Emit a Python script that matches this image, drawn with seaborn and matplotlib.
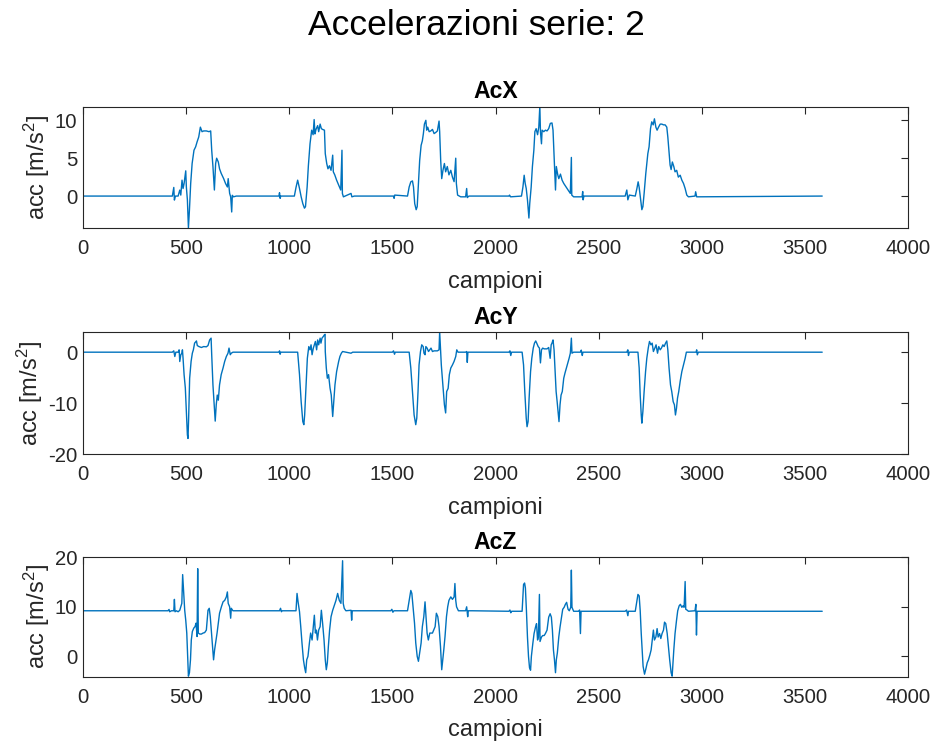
import matplotlib
matplotlib.use("Agg")
import matplotlib.pyplot as plt
import seaborn as sns
import numpy as np
import pandas as pd

# ---------------- data (sample index, value) ----------------
acx_t = [1, 432, 439, 442, 447, 460, 468, 473, 479, 484, 489, 497, 500, 505, 510, 515, 521, 528,
         537, 545, 552, 560, 568, 576, 584, 597, 610, 618, 623, 629, 636, 642, 647, 655, 661, 669,
         681, 690, 699, 703, 710, 715, 720, 723, 729, 742,
         949, 952, 955, 958, 1024, 1032, 1040, 1049, 1057, 1065, 1073, 1078, 1086, 1092, 1100, 1108,
         1115, 1120, 1124, 1129, 1137, 1142, 1149, 1155, 1161, 1170, 1174, 1181, 1187, 1194, 1202,
         1210, 1213, 1220, 1229, 1239, 1249, 1255, 1257, 1262, 1299, 1303, 1315,
         1505, 1508, 1511, 1573, 1581, 1589, 1597, 1602, 1608, 1615, 1620, 1626, 1632, 1639, 1645,
         1650, 1655, 1662, 1666, 1671, 1678, 1686, 1694, 1702, 1710, 1718, 1726, 1729, 1734, 1739,
         1745, 1752, 1758, 1766, 1774, 1783, 1791, 1799, 1807, 1810, 1816, 1831, 1855, 1860, 1863, 1871,
         2065, 2068, 2073, 2126, 2133, 2139, 2144, 2149, 2155, 2162, 2166, 2173, 2179, 2186, 2191,
         2197, 2204, 2210, 2215, 2218, 2223, 2226, 2234, 2242, 2250, 2258, 2266, 2274, 2279, 2286,
         2291, 2295, 2302, 2307, 2315, 2323, 2331, 2342, 2352, 2363, 2368, 2370, 2379, 2420, 2423,
         2425, 2429,
         2629, 2637, 2642, 2649, 2678, 2686, 2692, 2697, 2704, 2710, 2715, 2721, 2729, 2739, 2745,
         2752, 2758, 2765, 2771, 2778, 2784, 2791, 2799, 2807, 2815, 2823, 2831, 2836, 2841, 2847,
         2852, 2858, 2865, 2871, 2879, 2887, 2896, 2904, 2912, 2920, 2928, 2936, 2968, 2971, 2976,
         3585]
acx_v = [0.0, 0.0, 1.14, -0.53, 0.0, 0.0, 0.79, 0.13, 2.1, 1.0, 1.67, 3.33, 1.2, -0.5, -4.2, -1.8, 1.67, 4.3,
         6.05, 6.5, 7.15, 7.8, 9.1, 8.5, 8.6, 8.6, 8.5, 8.6, 6.05, 3.9, 0.8, 4.3, 5.0, 4.5, 3.6, 3.0,
         2.3, 1.67, 1.2, 2.3, 0.35, -0.1, -2.1, 0.1, -0.1, 0.0,
         0.0, 0.44, -0.3, 0.0, 0.0, 1.14, 2.1, 1.0, -0.1, -1.0, -1.6, -1.4, 1.2, 4.0, 6.9, 8.7,
         8.1, 10.1, 8.2, 8.8, 9.3, 8.5, 9.5, 8.9, 8.8, 8.7, 5.6, 4.3, 3.6, 4.0, 3.4,
         5.4, 3.2, 2.8, 2.1, 1.45, 0.8, 6.05, 0.35, -0.1, 0.35, -0.1, 0.0,
         0.0, -0.3, 0.13, 0.0, 1.2, 1.88, 2.0, 1.2, -1.0, -1.8, -1.4, 1.67, 4.7, 6.7, 7.3,
         8.25, 9.5, 10.0, 8.7, 9.1, 8.5, 8.6, 8.8, 8.25, 8.4, 8.6, 9.9, 8.5, 4.7, 2.3,
         3.4, 4.3, 3.2, 3.9, 2.8, 3.4, 2.5, 1.9, 5.0, 1.67, 0.13, -0.1, -0.1, 1.0, -0.2, 0.0,
         0.0, 0.13, -0.1, 0.0, 1.2, 2.75, 1.67, 1.0, -0.5, -2.9, -1.0, 1.2, 3.9, 6.05, 8.5,
         8.9, 8.1, 9.1, 11.9, 8.5, 6.9, 8.7, 8.5, 8.7, 8.6, 8.9, 9.6, 9.65, 8.7, 3.9,
         0.8, 3.9, 2.8, 2.3, 2.9, 2.1, 1.67, 1.2, 0.8, 0.35, 5.1, 0.13, -0.1, -0.1, 0.6,
         -0.5, 0.0,
         0.0, 0.8, -0.5, 0.13, 0.0, 1.0, 1.88, 1.14, -0.5, -1.8, -1.4, 0.35, 2.95, 5.6, 6.5,
         8.9, 9.8, 9.4, 10.2, 9.1, 8.7, 9.1, 9.5, 9.5, 9.4, 9.4, 9.1, 7.8, 6.05, 4.1,
         3.5, 4.5, 3.9, 3.2, 3.4, 2.5, 2.75, 2.1, 1.67, 1.0, 0.13, -0.1, 0.0, 0.57, -0.1,
         0.0]

acy_t = [1, 432, 439, 444, 449, 460, 465, 468, 473, 478, 481, 484, 489, 495, 500, 505, 508, 511, 516,
         523, 529, 534, 540, 549, 553, 561, 573, 584, 597, 605, 613, 620, 623, 629, 636, 640, 645,
         650, 655, 661, 669, 678, 686, 694, 702, 707, 713, 718, 726,
         949, 952, 955, 958, 1032, 1040, 1049, 1057, 1065, 1070, 1074, 1081, 1087, 1094, 1100, 1105,
         1110, 1116, 1121, 1126, 1132, 1137, 1142, 1149, 1153, 1158, 1165, 1170, 1173, 1174, 1179,
         1184, 1190, 1197, 1203, 1210, 1215, 1221, 1229, 1239, 1245, 1252, 1258, 1274, 1299, 1307,
         1500, 1505, 1510, 1513, 1581, 1589, 1597, 1605, 1613, 1618, 1624, 1629, 1636, 1642, 1649,
         1653, 1658, 1662, 1668, 1675, 1681, 1687, 1694, 1702, 1718, 1726, 1729, 1734, 1737, 1742,
         1747, 1752, 1758, 1763, 1770, 1776, 1783, 1791, 1799, 1807, 1812, 1818, 1855, 1860, 1863,
         1866, 1887,
         2065, 2070, 2074, 2078, 2129, 2136, 2142, 2149, 2153, 2158, 2163, 2170, 2176, 2183, 2189,
         2195, 2200, 2207, 2213, 2218, 2223, 2229, 2236, 2250, 2258, 2265, 2270, 2274, 2279, 2284,
         2289, 2294, 2299, 2304, 2308, 2313, 2318, 2324, 2331, 2337, 2344, 2350, 2357, 2363, 2368,
         2371, 2379, 2412, 2416, 2421, 2424, 2452,
         2637, 2642, 2645, 2649, 2691, 2697, 2702, 2707, 2710, 2715, 2721, 2728, 2734, 2741, 2747,
         2754, 2760, 2766, 2773, 2779, 2786, 2792, 2799, 2805, 2812, 2818, 2825, 2831, 2836, 2842,
         2849, 2855, 2862, 2868, 2873, 2878, 2883, 2889, 2896, 2904, 2912, 2920, 2926, 2973, 2976,
         2979, 2984, 3585]
acy_v = [0.0, 0.0, 0.26, -0.85, 0.0, 0.0, 0.46, -1.83, -0.52, -0.2, 0.46, -1.2, -4.4, -7.0, -11.6, -16.2, -16.9, -13.0, -5.1,
         -1.8, -0.2, 0.46, 1.77, 2.2, 1.3, 1.1, 0.92, 1.1, 1.05, 1.3, 2.4, 2.75, -0.5, -6.4, -10.9, -13.5, -10.3,
         -8.4, -9.4, -6.4, -4.4, -3.1, -1.8, -0.85, -0.2, 0.8, -0.5, -0.2, 0.0,
         0.0, 0.26, -0.4, 0.0, 0.0, 0.0, -4.4, -9.7, -13.6, -14.2, -12.3, -6.4, -1.2, 1.1, 0.46, 1.44,
         -0.5, 0.8, 1.44, 2.1, 0.46, 2.4, 1.44, 2.75, 1.77, 2.75, 3.1, 3.4, 3.5, 0.13, -3.1,
         -5.1, -4.4, -7.0, -8.4, -12.6, -9.7, -6.4, -3.8, -1.8, -0.85, -0.2, 0.13, 0.0, -0.2, 0.0,
         0.0, 0.26, -0.4, 0.0, 0.0, -3.1, -7.7, -12.3, -14.2, -12.9, -7.7, -2.5, 0.13, 1.44, 1.1,
         -0.2, -0.5, 1.1, 0.8, 0.13, 0.46, 0.8, 0.13, 0.26, 0.26, 0.46, 4.0, 0.13, -2.5, -5.1,
         -7.7, -10.3, -11.9, -7.7, -7.1, -4.4, -3.1, -2.5, -1.8, -0.85, 0.46, 0.0, 0.0, 0.13, -2.0,
         0.0, 0.0,
         0.0, 0.26, -0.65, 0.0, 0.0, -2.5, -7.7, -12.9, -14.6, -13.6, -9.0, -3.8, -1.2, 0.8, 1.77,
         2.2, 1.77, 1.1, 0.8, -2.1, 0.46, 0.8, 0.65, 0.65, 0.92, -1.2, 1.44, 1.77, 2.4, 0.46,
         -3.8, -7.7, -9.7, -12.0, -13.6, -10.3, -8.4, -7.7, -5.1, -4.1, -3.1, -2.2, -1.2, -0.2, 2.75,
         -0.2, 0.0, 0.0, 0.4, -0.65, 0.0, 0.0,
         0.0, 0.46, -0.65, 0.0, 0.0, -3.1, -8.4, -12.3, -13.9, -11.6, -7.7, -3.8, -1.2, 0.8, 2.1,
         1.44, 1.77, 0.13, 0.8, 1.44, -0.2, 1.1, 0.46, 0.8, 1.44, 1.1, 1.77, 2.2, 0.46, -3.1,
         -6.4, -7.7, -9.7, -10.3, -12.3, -11.0, -9.0, -7.7, -5.7, -3.8, -2.5, -1.2, 0.0, 0.0, 0.46,
         -0.52, 0.0, 0.0]

acz_t = [1, 411, 416, 419, 428, 439, 442, 445, 452, 460, 468, 473, 478, 482, 487, 492, 497, 502, 507,
         510, 515, 520, 524, 529, 536, 542, 547, 552, 555, 558, 565, 573, 581, 589, 597, 605, 611,
         616, 621, 626, 632, 637, 642, 649, 655, 661, 670, 678, 686, 694, 699, 703, 710, 715, 718, 726,
         952, 957, 961, 965, 1032, 1037, 1042, 1049, 1055, 1061, 1068, 1074, 1079, 1084, 1090, 1097,
         1103, 1110, 1116, 1121, 1126, 1131, 1136, 1142, 1149, 1155, 1161, 1168, 1174, 1179, 1184,
         1189, 1195, 1202, 1210, 1218, 1226, 1234, 1242, 1250, 1258, 1261, 1266, 1274, 1299, 1302,
         1305, 1323,
         1492, 1497, 1502, 1507, 1573, 1581, 1589, 1594, 1600, 1607, 1613, 1620, 1626, 1632, 1639,
         1645, 1652, 1658, 1663, 1668, 1674, 1681, 1694, 1700, 1707, 1713, 1720, 1726, 1733, 1739,
         1744, 1749, 1755, 1762, 1768, 1774, 1783, 1791, 1799, 1803, 1807, 1811, 1820, 1855, 1860,
         1865, 1868, 1887,
         2065, 2070, 2074, 2078, 2129, 2136, 2141, 2145, 2150, 2155, 2160, 2165, 2170, 2174, 2181,
         2187, 2194, 2199, 2204, 2208, 2213, 2216, 2223, 2229, 2236, 2242, 2250, 2258, 2265, 2271,
         2276, 2281, 2286, 2291, 2295, 2300, 2307, 2313, 2320, 2326, 2333, 2339, 2345, 2352, 2358,
         2365, 2368, 2371, 2379, 2403, 2408, 2412, 2415, 2436,
         2629, 2636, 2642, 2645, 2678, 2686, 2691, 2697, 2702, 2707, 2712, 2716, 2723, 2729, 2736,
         2742, 2749, 2755, 2762, 2766, 2771, 2778, 2784, 2789, 2796, 2802, 2808, 2815, 2820, 2826,
         2833, 2839, 2845, 2852, 2857, 2860, 2865, 2871, 2878, 2884, 2891, 2897, 2904, 2910, 2915,
         2920, 2923, 2929, 2936, 2968, 2972, 2975, 2978, 3585]
acz_v = [9.2, 9.2, 9.47, 9.0, 9.2, 9.2, 11.5, 9.0, 9.2, 9.0, 9.3, 10.0, 10.7, 16.5, 12.7, 9.3, 7.3, 4.7, -0.7,
         -4.0, -3.3, -0.7, 3.3, 5.0, 5.7, 6.0, 6.7, 4.0, 17.7, 4.7, 4.5, 4.5, 4.7, 4.8, 5.3, 9.3, 9.7,
         8.0, 5.3, 2.7, -0.7, 1.3, 2.7, 4.7, 6.7, 8.7, 10.0, 11.0, 11.3, 12.0, 13.0, 10.7, 10.0, 7.7, 9.7, 9.2,
         9.2, 9.7, 9.0, 9.2, 9.2, 12.7, 11.0, 9.0, 6.0, 2.7, -0.7, -2.3, -3.3, -0.7, 0.0, 2.7,
         4.7, 3.3, 6.0, 8.3, 4.7, 5.3, 3.3, 5.3, 6.0, 9.3, 6.7, 3.3, -0.7, -2.7, -1.3,
         2.0, 5.3, 8.0, 9.3, 10.3, 11.3, 12.7, 11.3, 10.7, 19.3, 10.7, 9.7, 9.2, 9.3, 7.3,
         9.2, 9.2,
         9.2, 9.5, 8.9, 9.2, 9.2, 11.3, 13.3, 12.7, 10.0, 6.7, 2.7, 0.0, -1.0, 0.7, 2.7,
         6.0, 8.0, 11.0, 8.0, 4.7, 3.3, 4.7, 4.7, 5.3, 6.0, 8.7, 8.0, 6.0, 2.0, -2.7,
         -0.7, 1.3, 4.0, 8.0, 10.0, 11.3, 12.0, 11.5, 12.0, 14.7, 11.3, 10.0, 9.2, 9.2, 10.0,
         8.0, 9.2, 9.2,
         9.1, 9.35, 8.8, 9.1, 9.1, 14.5, 14.8, 13.8, 9.2, 3.9, 0.0, -2.3, -2.8, 0.0, 2.6,
         4.6, 5.9, 6.6, 3.3, 3.9, 12.5, 3.0, 3.9, 4.2, 4.2, 4.6, 5.3, 7.9, 8.6, 7.9,
         5.3, 1.3, -0.7, -3.3, -0.7, 0.7, 3.9, 5.9, 7.9, 9.5, 9.9, 10.5, 10.9, 9.5, 9.2,
         9.9, 17.4, 9.9, 9.1, 9.1, 9.35, 4.6, 9.1, 9.1,
         9.1, 9.35, 8.2, 9.1, 9.1, 11.2, 12.5, 12.2, 9.2, 4.6, 0.7, -2.0, -3.6, -2.6, -1.3,
         -0.7, 0.3, 1.3, 3.9, 5.3, 3.3, 3.9, 5.6, 3.9, 4.6, 3.6, 4.6, 5.3, 6.9, 6.6,
         4.6, 2.0, -0.7, -3.3, -4.0, -2.0, 1.3, 4.6, 7.2, 9.2, 10.2, 10.5, 9.9, 10.2, 9.9,
         15.1, 9.5, 9.35, 9.1, 9.2, 10.5, 4.3, 9.1, 9.1]

titles = ["AcX", "AcY", "AcZ"]
suptitle = "Accelerazioni serie: 2"
xlabel = "campioni"
ylabel = "acc [m/s$^2$]"
xticks = [0, 500, 1000, 1500, 2000, 2500, 3000, 3500, 4000]

# ---------------- style ----------------
sns.set_theme(style="white")
plt.rcParams['font.family'] = ['Liberation Sans', 'DejaVu Sans']
plt.rcParams['mathtext.fontset'] = 'custom'
plt.rcParams['mathtext.rm'] = 'Liberation Sans'
plt.rcParams['mathtext.it'] = 'Liberation Sans'
plt.rcParams['axes.unicode_minus'] = False

line_color = "#0072BD"
axis_color = "#262626"

fig = plt.figure(figsize=(9.36, 7.44), dpi=100)
fig.patch.set_facecolor("white")

positions = [
    [0.089, 0.6932, 0.8808, 0.1634],
    [0.089, 0.3894, 0.8808, 0.1640],
    [0.089, 0.0905, 0.8808, 0.1605],
]
series = [(acx_t, acx_v), (acy_t, acy_v), (acz_t, acz_v)]
ylims = [(-4.25, 11.8), (-20, 3.9), (-4.1, 20)]
yticks = [[0, 5, 10], [-20, -10, 0], [0, 10, 20]]

for pos, (t, v), title, yl, yt in zip(positions, series, titles, ylims, yticks):
    ax = fig.add_axes(pos)
    df = pd.DataFrame({"campioni": t, "acc": v})
    sns.lineplot(data=df, x="campioni", y="acc", ax=ax, color=line_color,
                 linewidth=1.0, estimator=None, sort=False)
    ax.set_xlim(0, 4000)
    ax.set_ylim(*yl)
    ax.set_xticks(xticks)
    ax.set_yticks(yt)
    ax.set_title(title, fontsize=16.6, fontweight="bold", color="black", pad=6)
    ax.set_xlabel(xlabel, fontsize=17, color=axis_color, labelpad=9)
    ax.set_ylabel(ylabel, fontsize=17, color=axis_color, labelpad=2)
    ax.tick_params(direction="in", length=5, width=0.8, colors=axis_color,
                   labelsize=14.6, top=True, right=True, labeltop=False, labelright=False)
    ax.tick_params(axis="x", pad=8)
    ax.tick_params(axis="y", pad=4.5)
    for s in ax.spines.values():
        s.set_visible(True)
        s.set_color(axis_color)
        s.set_linewidth(0.8)

fig.text(0.509, 0.966, suptitle, ha="center", va="center", fontsize=25.5, color="black")

fig.savefig("out.png", dpi=100, facecolor="white")
